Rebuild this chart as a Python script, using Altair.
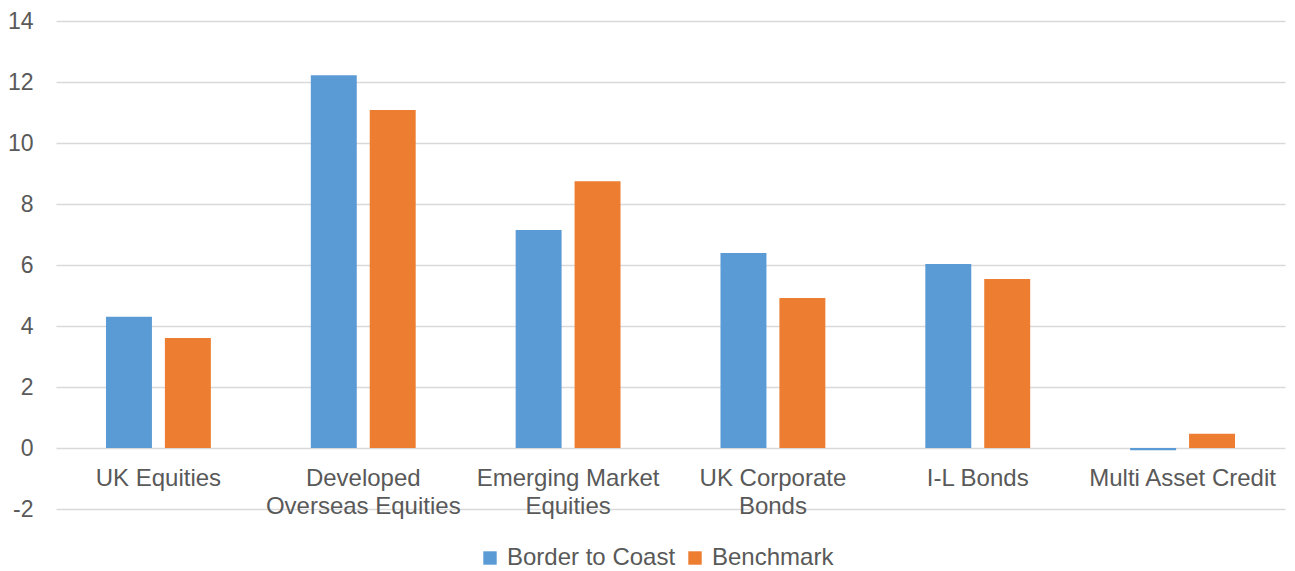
import altair as alt
import pandas as pd

categories = ["UK Equities", "Developed Overseas Equities", "Emerging Market Equities",
              "UK Corporate Bonds", "I-L Bonds", "Multi Asset Credit"]
label_lines = {
    "Developed Overseas Equities": ["Developed", "Overseas Equities"],
    "Emerging Market Equities": ["Emerging Market", "Equities"],
    "UK Corporate Bonds": ["UK Corporate", "Bonds"],
}
series = ["Border to Coast", "Benchmark"]
border_to_coast = [4.30, 12.22, 7.15, 6.39, 6.03, -0.07]
benchmark = [3.61, 11.08, 8.75, 4.92, 5.54, 0.47]
colors = ["#5B9BD5", "#ED7D31"]
y_ticks = [-2, 0, 2, 4, 6, 8, 10, 12, 14]

rows = []
for c, a, b in zip(categories, border_to_coast, benchmark):
    rows.append({"category": c, "series": series[0], "value": a})
    rows.append({"category": c, "series": series[1], "value": b})
df = pd.DataFrame(rows)

expr = "datum.value"
for k, v in label_lines.items():
    expr = f"datum.value == '{k}' ? {v!r} : ({expr})"

FONT = "Liberation Sans"
TXT = "#595959"
FS = 24

chart = alt.Chart(df).mark_bar().encode(
    x=alt.X("category:N", sort=categories, title=None,
            scale=alt.Scale(paddingInner=0.488, paddingOuter=0.244),
            axis=alt.Axis(orient="bottom", offset=-61, labelAngle=0, domain=False,
                          ticks=False, tickSize=0, labelPadding=18, labelExpr=expr,
                          labelLineHeight=28, labelFont=FONT, labelFontSize=FS,
                          labelColor=TXT, grid=False, labelLimit=0)),
    xOffset=alt.XOffset("series:N", sort=series,
                        scale=alt.Scale(paddingInner=0.22, paddingOuter=0)),
    y=alt.Y("value:Q", title=None,
            scale=alt.Scale(domain=[-2, 14], nice=False, zero=False),
            axis=alt.Axis(values=y_ticks, domain=False, ticks=False, labelPadding=23,
                          labelExpr="'' + datum.value",
                          labelFont=FONT, labelFontSize=23, labelColor=TXT,
                          gridColor="#D9D9D9", gridWidth=1.3)),
    color=alt.Color("series:N", sort=series, title=None,
                    scale=alt.Scale(domain=series, range=colors),
                    legend=alt.Legend(orient="none", legendX=422, legendY=525,
                                      direction="horizontal", symbolType="square",
                                      symbolSize=180, symbolStrokeWidth=0,
                                      labelFont=FONT, labelFontSize=FS, labelColor=TXT,
                                      labelOffset=5, columnPadding=7, labelLimit=0)),
).properties(
    width=1229, height=488,
    padding={"left": 56, "top": 21, "right": 10, "bottom": 62},
    autosize=alt.AutoSizeParams(type="none"),
    background="white",
).configure_view(stroke=None, strokeWidth=0)

chart.save("out.html", embed_options={"renderer": "svg", "actions": False})
